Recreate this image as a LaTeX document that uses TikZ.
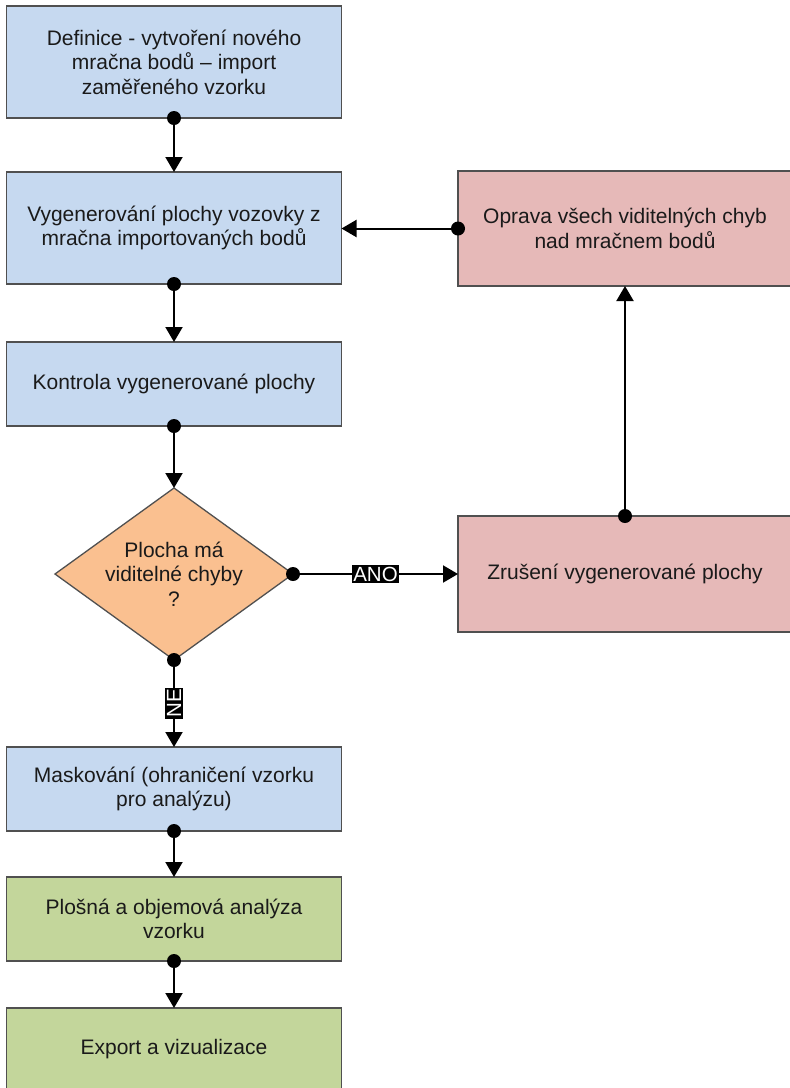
\documentclass[tikz,border=0pt]{standalone}
\usepackage{fontspec}
\setmainfont{Liberation Sans}
\usetikzlibrary{shapes.geometric,arrows.meta}
\definecolor{bluef}{HTML}{C6D9F0}
\definecolor{redf}{HTML}{E6B9B8}
\definecolor{orangef}{HTML}{FAC090}
\definecolor{greenf}{HTML}{C3D69B}
\definecolor{edgec}{HTML}{505050}
\definecolor{txt}{HTML}{1A1A1A}
\tikzset{
  box/.style={draw=edgec, line width=1.3pt, rectangle, inner sep=0pt, outer sep=0pt, align=center, text=txt,
    font=\fontsize{21pt}{24.5pt}\selectfont},
  bluebox/.style={box, fill=bluef, minimum width=335pt},
  redbox/.style={box, fill=redf, minimum width=334pt},
  greenbox/.style={box, fill=greenf, minimum width=335pt},
  conn/.style={line width=2pt, -{Triangle[length=15pt,width=17pt]}},
  dot/.style={fill=black},
  lab/.style={fill=black, text=white, inner sep=1.5pt, font=\fontsize{20.5pt}{22pt}\selectfont},
}
\begin{document}
\begin{tikzpicture}[x=1pt,y=-1pt]
\useasboundingbox (0,0) rectangle (790,1088);
\node[bluebox, minimum height=112pt] (b1) at (174,62) {Definice - vytvoření nového\\mračna bodů – import\\zaměřeného vzorku};
\node[bluebox, minimum height=112pt] (b2) at (174,228) {Vygenerování plochy vozovky z\\mračna importovaných bodů};
\node[bluebox, minimum height=84pt] (b3) at (174,384) {Kontrola vygenerované plochy};
\node[diamond, draw=edgec, line width=1.3pt, fill=orangef, inner sep=0pt, outer sep=0pt, minimum width=238pt, minimum height=172pt] (d) at (174,574) {};
\node[align=center, text=txt, font=\fontsize{21pt}{24.5pt}\selectfont] (dt) at (174,574) {Plocha má\\viditelné chyby\\?};
\node[redbox, minimum height=115pt] (r1) at (625,228.5) {Oprava všech viditelných chyb\\nad mračnem bodů};
\node[redbox, minimum height=116pt] (r2) at (625,574) {Zrušení vygenerované plochy};
\node[bluebox, minimum height=84pt] (b6) at (174,789) {Maskování (ohraničení vzorku\\pro analýzu)};
\node[greenbox, minimum height=84pt] (g1) at (174,919) {Plošná a objemová analýza\\vzorku};
\node[greenbox, minimum height=82pt] (g2) at (174,1049) {Export a vizualizace};

\draw[conn] (b1.south) -- (b2.north);
\draw[conn] (b2.south) -- (b3.north);
\draw[conn] (b3.south) -- (d.north);
\draw[conn] (d.south) -- node[lab, rotate=90] {NE} (b6.north);
\draw[conn] (d.east) -- node[lab] {ANO} (r2.west);
\draw[conn] (r2.north) -- (r1.south);
\draw[conn] (r1.west) -- (b2.east |- r1.west);
\draw[conn] (b6.south) -- (g1.north);
\draw[conn] (g1.south) -- (g2.north);

\foreach \p in {b1.south, b2.south, b3.south, d.south, d.east, r2.north, r1.west, b6.south, g1.south}
  \fill[dot] (\p) circle (7pt);
\end{tikzpicture}
\end{document}
